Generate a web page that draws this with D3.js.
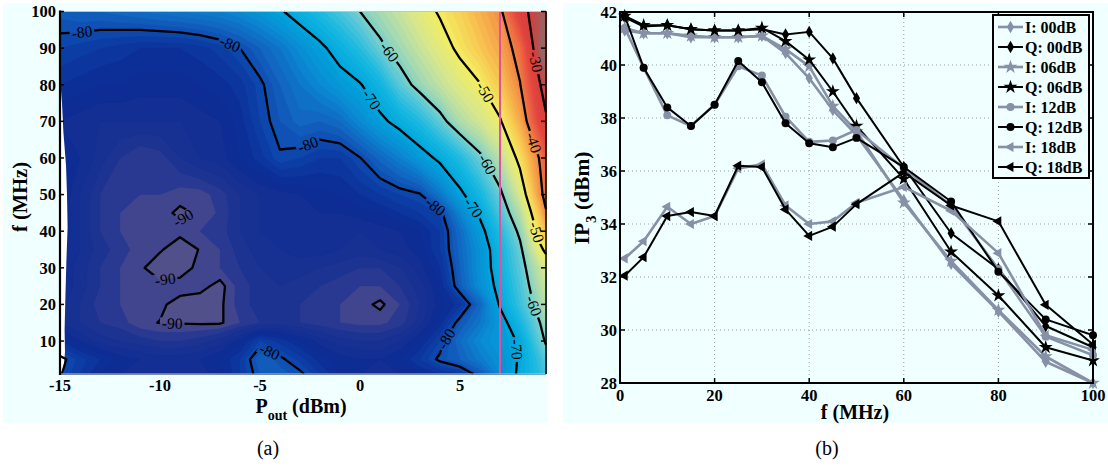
<!DOCTYPE html>
<html>
<head>
<meta charset="utf-8">
<script src="https://cdn.jsdelivr.net/npm/d3@7"></script>
<style>
  body { margin: 0; background: #fff; }
  svg text { font-family: "Liberation Serif", "Times New Roman", serif; }
</style>
</head>
<body>
<svg id="fig" width="1108" height="469"></svg>
<script>
// ---------------- panel (a): level (dB) over Pout x f ----------------
var poutGrid = [-15,-14,-13,-12,-11,-10,-9,-8,-7,-6,-5,-4,-3,-2,-1,0,1,2,3,4,5,6,7,8,9,9.3];
var fGrid = [1,5,10,15,20,25,30,35,40,45,50,60,70,80,90,100];
// one row per fGrid entry, one value per poutGrid entry
var levelRows = [
  [-79.8,-82,-84,-85,-85.5,-86,-86,-85.5,-84.5,-82,-79,-78.5,-79.5,-82,-84,-85,-85.5,-85,-84,-83,-82,-79,-74,-69,-65,-63],
  [-79.3,-81.5,-83,-84.5,-85,-85.5,-85.5,-85,-84,-82,-78,-79.5,-81.5,-83.5,-84.5,-85,-85,-84,-82,-79.5,-78,-75.5,-73,-69.5,-64,-62],
  [-83,-85,-86.5,-87,-87.5,-88,-88,-87.5,-86.5,-84.5,-81,-82.5,-84,-85.5,-86.5,-87,-87,-86,-84,-81,-77,-74,-72,-69.5,-61.5,-59.5],
  [-86,-87,-88,-88.5,-89.7,-90.05,-90.1,-90.2,-90.2,-89,-88,-87.5,-88,-88.5,-89,-89.3,-89.3,-88.5,-86.5,-83.5,-79,-76,-72,-66.5,-60,-58],
  [-85.5,-87,-88.5,-89,-89.5,-89.7,-90.6,-90.8,-90.3,-88.5,-87.5,-87.5,-88,-88.5,-89,-89.5,-90.3,-89,-87,-84.5,-82.5,-77.5,-69.5,-64,-58,-56],
  [-85,-86.5,-88,-89,-89.3,-89.5,-89.3,-89.5,-90.5,-88.5,-87.5,-87,-87.5,-88,-88.5,-89,-89,-88,-86.5,-84,-78.5,-73.5,-68.5,-63,-56.5,-54.5],
  [-85,-86.5,-88,-89,-89.7,-91,-90.8,-89.5,-89,-88,-87,-86.5,-86.5,-87,-87.5,-88,-88,-87,-85.5,-83,-78,-73,-67.5,-62,-55,-53],
  [-84.5,-86,-87.5,-88.5,-89.5,-89.8,-91,-89.9,-89,-87.5,-86.5,-86,-85.5,-85.5,-86,-86.5,-86,-85.5,-84.5,-82,-77.5,-73,-67,-61,-51,-49],
  [-84,-86,-88,-89,-89.5,-89.8,-89.5,-89,-88.5,-87,-86,-86,-85.5,-85.5,-86,-86,-85.5,-85,-84,-82,-77,-71.5,-65.5,-59,-48,-45],
  [-84,-86,-88,-89,-89.3,-89.5,-90.3,-89.8,-88.8,-87,-86,-85.8,-85.3,-85,-85,-84.5,-84,-83,-82,-80.8,-74.5,-69.2,-63,-56.5,-45,-40.5],
  [-84,-86,-88,-89,-89,-89,-89.5,-89.5,-88.5,-87,-86,-85.5,-85,-84.5,-84,-83,-82,-81,-80.2,-76,-71,-66.5,-61,-53.5,-41.5,-38],
  [-84,-85,-86.5,-88,-89,-88.5,-87,-86,-85.5,-84,-82.5,-80.3,-81,-82,-82,-80.1,-77.5,-75,-72,-69,-65.5,-61,-56,-48.5,-39.5,-36],
  [-85,-85.5,-86,-86,-86,-86,-86,-85.5,-85,-83.5,-81,-79,-77.5,-78,-77,-74,-71,-68.5,-65.5,-61.5,-57,-54,-50.5,-43.5,-33,-31],
  [-83,-83.5,-84,-84,-84.5,-84.5,-84.5,-84,-83.5,-82.5,-80.5,-78,-76,-74,-72,-70.3,-67,-62,-58.5,-55.5,-52.5,-50.2,-46,-40.2,-30.2,-27],
  [-81,-81.5,-82,-82.5,-83,-83,-83,-82.5,-81.5,-80,-78,-76,-73.5,-71,-68,-65,-61,-58,-55,-52,-49,-46,-43,-38,-26,-25],
  [-78.5,-78,-78,-77.5,-77,-76.5,-76,-75.5,-75,-74,-72.5,-70.5,-68,-65.5,-63,-60,-57.5,-55,-52,-49.5,-47,-44,-41,-32,-27,-26]
];
var contourLevels = [-90,-80,-70,-60,-50,-40,-30];
var cursorPout = 7;
// left edge of the measured region (white where nothing was measured)
var gapF    = [82, 75, 67, 58, 50, 41, 32, 22, 13, 7, 1];
var gapPout = [-15, -14.9, -14.83, -14.7, -14.65, -14.62, -14.68, -14.73, -14.77, -14.75, -14.85];
var aXTicks = [-15, -10, -5, 0, 5];
var aYTicks = [10, 20, 30, 40, 50, 60, 70, 80, 90, 100];

// ---------------- panel (b): IP3 vs f ----------------
var freqs = [1,5,10,15,20,25,30,35,40,45,50,60,70,80,90,100];
var ip3I00 = [41.3,41.2,41.2,41.05,41.05,41.05,41.1,40.45,39.5,38.3,37.35,34.9,32.5,30.7,28.8,28.0];
var ip3Q00 = [41.8,41.45,41.5,41.35,41.3,41.3,41.35,41.15,41.25,40.25,38.75,36.15,33.65,32.3,30.15,29.35];
var ip3I06 = [41.4,41.2,41.2,41.1,41.05,41.05,41.1,40.6,39.95,38.45,37.5,34.8,32.6,30.75,29.0,28.0];
var ip3Q06 = [41.85,41.5,41.5,41.35,41.3,41.3,41.4,40.9,40.2,39.0,37.7,35.7,32.95,31.3,29.35,28.85];
var ip3I12 = [41.4,39.9,38.1,37.7,38.5,39.95,39.6,38.05,37.1,37.15,37.55,36.1,34.7,32.3,29.75,29.05];
var ip3Q12 = [41.85,39.9,38.4,37.7,38.5,40.15,39.35,37.8,37.05,36.9,37.25,36.15,34.85,32.2,30.4,29.8];
var ip3I18 = [32.7,33.35,34.65,34.0,34.3,36.1,36.25,34.7,34.0,34.1,34.8,35.4,34.5,32.9,29.8,29.25];
var ip3Q18 = [32.05,32.75,34.3,34.45,34.3,36.2,36.15,34.55,33.55,33.9,34.75,35.95,34.7,34.1,30.95,29.45];
var seriesNames = ["I: 00dB","Q: 00dB","I: 06dB","Q: 06dB","I: 12dB","Q: 12dB","I: 18dB","Q: 18dB"];
var bXTicks = [0, 20, 40, 60, 80, 100];
var bYTicks = [28, 30, 32, 34, 36, 38, 40, 42];

var svg = d3.select("#fig");
var bg = "#f0ffff";

svg.append("rect").attr("x", 3).attr("y", 3).attr("width", 545).attr("height", 420).attr("fill", bg);
svg.append("rect").attr("x", 563).attr("y", 3).attr("width", 545).attr("height", 420).attr("fill", bg);

// ======================= panel (a) =======================
var xA = d3.scaleLinear().domain([-15, 9.3]).range([60, 546]);
var yA = d3.scaleLinear().domain([1, 100]).range([374, 11.5]);

var cmap = d3.scaleLinear()
  .domain([-92, -90, -89, -88, -84, -81, -78, -74, -70, -66, -62, -58, -54, -50, -46, -42, -38, -34, -30, -28, -26, -24])
  .range(["#5e5a88", "#4e4d8c", "#333d8f", "#1e3492", "#0c2c94", "#0c40a8", "#1262bf", "#0a8ad2", "#00a6dc",
          "#18b8e0", "#5ac8d8", "#a0d8b4", "#d4e690", "#f3ee62", "#f8c852", "#f49a48", "#ee6a42",
          "#e2463e", "#d63e3e", "#c04a4a", "#9a6262", "#8a6e6e"])
  .clamp(true);

var nx = poutGrid.length, ny = fGrid.length;
var values = [].concat.apply([], levelRows);
var colIdx = d3.scaleLinear().domain(d3.range(nx)).range(poutGrid);
var rowIdx = d3.scaleLinear().domain(d3.range(ny)).range(fGrid);
function gx2px(g) { return xA(colIdx(Math.max(0, Math.min(nx - 1, g - 0.5)))); }
function gy2px(g) { return yA(rowIdx(Math.max(0, Math.min(ny - 1, g - 0.5)))); }
var gridPath = d3.geoPath(d3.geoTransform({
  point: function (x, y) { this.stream.point(gx2px(x), gy2px(y)); }
}));

var gA = svg.append("g");
var bands = d3.contours().size([nx, ny]).thresholds(d3.range(-100, -24, 1))(values);
gA.selectAll("path.band").data(bands).join("path")
  .attr("class", "band")
  .attr("d", gridPath)
  .attr("fill", function (d) { return cmap(d.value + 0.5); })
  .attr("stroke", function (d) { return cmap(d.value + 0.5); })
  .attr("stroke-width", 0.3);

// white wedge where no data
var gapPts = gapF.map(function (f, i) { return [xA(gapPout[i]), yA(f)]; });
gapPts.push([xA(-15), yA(gapF[gapF.length - 1])]);
gapPts.push([xA(-15), yA(gapF[0])]);
gA.append("path").attr("d", "M" + gapPts.join("L") + "Z").attr("fill", "#fff");

// contour lines: split rings, drop the parts that run along the grid border
// (anything within half a cell of the edge collapses onto the edge once clamped)
function ringToLines(ring) {
  var n = ring.length - 1;
  function onB(a, b) {
    return (a[0] <= 0.5 && b[0] <= 0.5) || (a[0] >= nx - 0.5 && b[0] >= nx - 0.5) ||
           (a[1] <= 0.5 && b[1] <= 0.5) || (a[1] >= ny - 0.5 && b[1] >= ny - 0.5);
  }
  var k0 = -1;
  for (var k = 0; k < n; k++) if (onB(ring[k], ring[k + 1])) { k0 = k; break; }
  if (k0 < 0) return [{ pts: ring.slice(), closed: true }];
  var lines = [], cur = null;
  for (var s = 1; s <= n; s++) {
    var j = (k0 + s) % n, a = ring[j], b = ring[j + 1];
    if (onB(a, b)) { if (cur) { lines.push({ pts: cur, closed: false }); cur = null; } }
    else { if (!cur) cur = [a]; cur.push(b); }
  }
  if (cur) lines.push({ pts: cur, closed: false });
  return lines;
}

var isoLines = [];
d3.contours().size([nx, ny]).thresholds(contourLevels)(values).forEach(function (geo) {
  geo.coordinates.forEach(function (poly) {
    poly.forEach(function (ring) {
      ringToLines(ring).forEach(function (ln) {
        var pts = [];
        ln.pts.forEach(function (p) {
          var q = [gx2px(p[0]), gy2px(p[1])];
          var last = pts[pts.length - 1];
          if (!last || Math.abs(last[0] - q[0]) > 0.01 || Math.abs(last[1] - q[1]) > 0.01) pts.push(q);
        });
        if (pts.length < 2) return;
        if (!ln.closed && pts[pts.length - 1][1] < pts[0][1]) pts.reverse();
        isoLines.push({ level: geo.value, pts: pts, closed: ln.closed });
      });
    });
  });
});

// label positions along each line (clabel-like spacing)
var labelSpacing = 150;
var labelStart = { "-80": 22, "-70": 125, "-60": 50, "-50": 95, "-40": 135, "-30": 46 };
var labels = [];
isoLines.forEach(function (ln) {
  var cum = [0];
  for (var i = 1; i < ln.pts.length; i++) {
    cum.push(cum[i - 1] + Math.hypot(ln.pts[i][0] - ln.pts[i - 1][0], ln.pts[i][1] - ln.pts[i - 1][1]));
  }
  var L = cum[cum.length - 1];
  if (L < 45) return;
  var at = [];
  if (ln.closed || L < labelSpacing + 30 || labelStart[ln.level] === undefined) at = [L / 2];
  else for (var d = labelStart[ln.level]; d < L - 6; d += labelSpacing) at.push(d);
  at.forEach(function (d) {
    var i = 1;
    while (i < cum.length - 1 && cum[i] < d) i++;
    var p0 = ln.pts[i - 1], p1 = ln.pts[i];
    var t = (d - cum[i - 1]) / Math.max(1e-6, cum[i] - cum[i - 1]);
    var ang = Math.atan2(p1[1] - p0[1], p1[0] - p0[0]) * 180 / Math.PI;
    if (ang > 90) ang -= 180;
    if (ang < -90) ang += 180;
    labels.push({ x: p0[0] + t * (p1[0] - p0[0]), y: p0[1] + t * (p1[1] - p0[1]), a: ang, text: String(ln.level) });
  });
});

var defs = svg.append("defs");
var mask = defs.append("mask").attr("id", "lblMask").attr("maskUnits", "userSpaceOnUse")
  .attr("x", 0).attr("y", 0).attr("width", 1108).attr("height", 469);
mask.append("rect").attr("width", 1108).attr("height", 469).attr("fill", "#fff");

var lineGen = d3.line();
gA.append("g").attr("mask", "url(#lblMask)")
  .selectAll("path").data(isoLines).join("path")
  .attr("d", function (d) { return lineGen(d.pts) + (d.closed ? "Z" : ""); })
  .attr("fill", "none").attr("stroke", "#000").attr("stroke-width", 2.3)
  .attr("stroke-linejoin", "round");

var lblG = gA.append("g");
labels.forEach(function (l) {
  var t = lblG.append("text")
    .attr("transform", "translate(" + l.x + "," + l.y + ") rotate(" + l.a + ")")
    .attr("text-anchor", "middle").attr("dy", "0.34em")
    .attr("font-size", 15.5).attr("fill", "#000").text(l.text);
  var w = t.node().getComputedTextLength() + 4;
  mask.append("rect").attr("x", -w / 2).attr("y", -6).attr("width", w).attr("height", 12)
    .attr("transform", "translate(" + l.x + "," + l.y + ") rotate(" + l.a + ")")
    .attr("fill", "#000");
});

// cursor line
gA.append("line")
  .attr("x1", xA(cursorPout)).attr("x2", xA(cursorPout))
  .attr("y1", yA(1)).attr("y2", yA(100))
  .attr("stroke", "#e0509c").attr("stroke-width", 2);

// axes (a)
gA.append("line").attr("x1", 60).attr("x2", 546).attr("y1", yA(100)).attr("y2", yA(100)).attr("stroke", "#b8c8cc").attr("stroke-width", 1);
gA.append("line").attr("x1", 60).attr("x2", 546).attr("y1", yA(1)).attr("y2", yA(1)).attr("stroke", "#b8c8cc").attr("stroke-width", 1);
gA.append("line").attr("x1", xA(-15)).attr("x2", xA(-15)).attr("y1", yA(100) - 1).attr("y2", yA(1) + 1).attr("stroke", "#000").attr("stroke-width", 2.2);
gA.append("line").attr("x1", xA(9.3)).attr("x2", xA(9.3)).attr("y1", yA(100)).attr("y2", yA(1)).attr("stroke", "#000").attr("stroke-width", 1.5);
aYTicks.forEach(function (v) {
  gA.append("line").attr("x1", xA(-15)).attr("x2", xA(-15) + 4).attr("y1", yA(v)).attr("y2", yA(v)).attr("stroke", "#000").attr("stroke-width", 1.5);
  gA.append("line").attr("x1", xA(9.3)).attr("x2", xA(9.3) - 5).attr("y1", yA(v)).attr("y2", yA(v)).attr("stroke", "#000").attr("stroke-width", 1.5);
  gA.append("text").attr("x", 56).attr("y", yA(v)).attr("dy", "0.35em").attr("text-anchor", "end")
    .attr("font-size", 16.5).attr("font-weight", "bold").text(v);
});
aXTicks.forEach(function (v) {
  gA.append("text").attr("x", xA(v)).attr("y", 391).attr("text-anchor", "middle")
    .attr("font-size", 16.5).attr("font-weight", "bold").text(v);
});
var axl = gA.append("text").attr("x", 301).attr("y", 413).attr("text-anchor", "middle")
  .attr("font-size", 20).attr("font-weight", "bold");
axl.append("tspan").text("P");
axl.append("tspan").attr("font-size", 14).attr("dy", 7).text("out");
axl.append("tspan").attr("dy", -7).text(" (dBm)");
gA.append("text").attr("transform", "translate(27,197) rotate(-90)").attr("text-anchor", "middle")
  .attr("font-size", 20.5).attr("font-weight", "bold").text("f (MHz)");
svg.append("text").attr("x", 268).attr("y", 455).attr("text-anchor", "middle").attr("font-size", 20).text("(a)");

// ======================= panel (b) =======================
var xB = d3.scaleLinear().domain([0, 100]).range([620, 1093]);
var yB = d3.scaleLinear().domain([28, 42]).range([383, 12]);
var gB = svg.append("g");
var grey = "#8690a6";

bXTicks.forEach(function (v) {
  if (v > 0 && v < 100) gB.append("line").attr("x1", xB(v)).attr("x2", xB(v)).attr("y1", yB(28)).attr("y2", yB(42))
    .attr("stroke", "#9aa0a0").attr("stroke-width", 1).attr("stroke-dasharray", "1,3");
});
bYTicks.forEach(function (v) {
  if (v > 28 && v < 42) gB.append("line").attr("x1", xB(0)).attr("x2", xB(100)).attr("y1", yB(v)).attr("y2", yB(v))
    .attr("stroke", "#9aa0a0").attr("stroke-width", 1).attr("stroke-dasharray", "1,3");
});

var series = [
  { name: seriesNames[0], vals: ip3I00, color: grey, sym: d3.symbolDiamond, size: 45, rot: 0, w: 2.6 },
  { name: seriesNames[1], vals: ip3Q00, color: "#000", sym: d3.symbolDiamond, size: 45, rot: 0, w: 2 },
  { name: seriesNames[2], vals: ip3I06, color: grey, sym: d3.symbolStar, size: 60, rot: 0, w: 2.6 },
  { name: seriesNames[3], vals: ip3Q06, color: "#000", sym: d3.symbolStar, size: 60, rot: 0, w: 2 },
  { name: seriesNames[4], vals: ip3I12, color: grey, sym: d3.symbolCircle, size: 50, rot: 0, w: 2.6 },
  { name: seriesNames[5], vals: ip3Q12, color: "#000", sym: d3.symbolCircle, size: 50, rot: 0, w: 2 },
  { name: seriesNames[6], vals: ip3I18, color: grey, sym: d3.symbolTriangle, size: 45, rot: -90, w: 2.6 },
  { name: seriesNames[7], vals: ip3Q18, color: "#000", sym: d3.symbolTriangle, size: 45, rot: -90, w: 2 }
];
var line = d3.line().x(function (d) { return xB(d[0]); }).y(function (d) { return yB(d[1]); });
series.forEach(function (s) {
  var pts = freqs.map(function (f, i) { return [f, s.vals[i]]; });
  var g = gB.append("g");
  g.append("path").attr("d", line(pts)).attr("fill", "none").attr("stroke", s.color)
    .attr("stroke-width", s.w).attr("stroke-linejoin", "round");
  g.selectAll("path.m").data(pts).join("path").attr("class", "m")
    .attr("d", d3.symbol().type(s.sym).size(s.size))
    .attr("transform", function (d) { return "translate(" + xB(d[0]) + "," + yB(d[1]) + ") rotate(" + s.rot + ")"; })
    .attr("fill", s.color);
});

// frame + ticks (b)
gB.append("rect").attr("x", xB(0)).attr("y", yB(42)).attr("width", xB(100) - xB(0)).attr("height", yB(28) - yB(42))
  .attr("fill", "none").attr("stroke", "#000").attr("stroke-width", 2);
bXTicks.forEach(function (v) {
  gB.append("line").attr("x1", xB(v)).attr("x2", xB(v)).attr("y1", yB(28)).attr("y2", yB(28) - 5).attr("stroke", "#000").attr("stroke-width", 1.5);
  gB.append("line").attr("x1", xB(v)).attr("x2", xB(v)).attr("y1", yB(42)).attr("y2", yB(42) + 5).attr("stroke", "#000").attr("stroke-width", 1.5);
  gB.append("text").attr("x", xB(v)).attr("y", 401).attr("text-anchor", "middle")
    .attr("font-size", 16.5).attr("font-weight", "bold").text(v);
});
bYTicks.forEach(function (v) {
  gB.append("line").attr("x1", xB(0)).attr("x2", xB(0) + 5).attr("y1", yB(v)).attr("y2", yB(v)).attr("stroke", "#000").attr("stroke-width", 1.5);
  gB.append("line").attr("x1", xB(100)).attr("x2", xB(100) - 5).attr("y1", yB(v)).attr("y2", yB(v)).attr("stroke", "#000").attr("stroke-width", 1.5);
  gB.append("text").attr("x", 617).attr("y", yB(v)).attr("dy", "0.35em").attr("text-anchor", "end")
    .attr("font-size", 16.5).attr("font-weight", "bold").text(v);
});
gB.append("text").attr("x", 855).attr("y", 419).attr("text-anchor", "middle")
  .attr("font-size", 20).attr("font-weight", "bold").text("f (MHz)");
var byl = gB.append("text").attr("transform", "translate(589,198) rotate(-90)").attr("text-anchor", "middle")
  .attr("font-size", 21.5).attr("font-weight", "bold");
byl.append("tspan").text("IP");
byl.append("tspan").attr("font-size", 15).attr("dy", 7).text("3");
byl.append("tspan").attr("dy", -7).text(" (dBm)");

// legend
var lg = gB.append("g");
lg.append("rect").attr("x", 993).attr("y", 15).attr("width", 96).attr("height", 163)
  .attr("fill", bg).attr("stroke", "#000").attr("stroke-width", 2);
series.forEach(function (s, i) {
  var y = 27 + i * 20;
  lg.append("line").attr("x1", 998).attr("x2", 1023).attr("y1", y).attr("y2", y)
    .attr("stroke", s.color).attr("stroke-width", s.w);
  lg.append("path").attr("d", d3.symbol().type(s.sym).size(s.size))
    .attr("transform", "translate(1010.5," + y + ") rotate(" + s.rot + ")").attr("fill", s.color);
  lg.append("text").attr("x", 1025).attr("y", y).attr("dy", "0.35em")
    .attr("font-size", 16).attr("font-weight", "bold").text(s.name);
});
svg.append("text").attr("x", 827).attr("y", 455).attr("text-anchor", "middle").attr("font-size", 20).text("(b)");
</script>
</body>
</html>
